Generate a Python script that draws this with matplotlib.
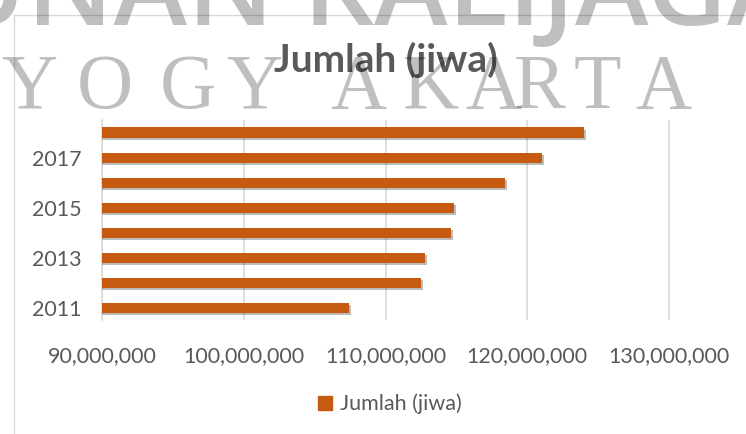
import matplotlib
matplotlib.use('Agg')
import matplotlib.pyplot as plt
import matplotlib.patheffects as pe
from matplotlib.lines import Line2D
from matplotlib.patches import Patch
from matplotlib.ticker import FuncFormatter

years = [2011, 2012, 2013, 2014, 2015, 2016, 2017, 2018]
jumlah = [107400000, 112500000, 112800000, 114600000, 114800000, 118400000, 121050000, 124000000]
x_ticks = [90000000, 100000000, 110000000, 120000000, 130000000]
year_labels = [2011, 2013, 2015, 2017]

W, H = 746, 434
bar_color = '#C55A11'
text_color = '#595959'
grid_color = '#d9d9d9'

plt.rcParams['font.family'] = ['Lato', 'DejaVu Sans']

fig = plt.figure(figsize=(W / 100, H / 100), dpi=100)
fig.patch.set_facecolor('white')

# plot area (pixel positions)
left, right, top, bottom = 102.3, 746, 120, 320
ax = fig.add_axes([left / W, 1 - bottom / H, (right - left) / W, (bottom - top) / H])

pos = list(range(len(years)))
bars = ax.barh(pos, jumlah, height=0.4, color=bar_color, zorder=3)
for b in bars:
    b.set_path_effects([pe.SimplePatchShadow(offset=(1.5, -1.8), shadow_rgbFace='#404040', alpha=0.35),
                        pe.Normal()])

ax.set_xlim(90000000, 135450000)
ax.set_ylim(-0.5, len(years) - 0.5)
ax.set_xticks(x_ticks)
ax.xaxis.set_major_formatter(FuncFormatter(lambda v, p: f'{int(v):,}'))
ax.set_yticks([years.index(y) for y in year_labels])
ax.set_yticklabels([str(y) for y in year_labels])
ax.tick_params(axis='x', length=0, pad=19, labelsize=15.5, labelcolor=text_color)
ax.tick_params(axis='y', length=0, pad=15, labelsize=15.5, labelcolor=text_color)
ax.grid(axis='x', color=grid_color, lw=1.2, zorder=0)
for s in ['top', 'right', 'bottom']:
    ax.spines[s].set_visible(False)
ax.spines['left'].set_color(grid_color)
ax.spines['left'].set_linewidth(1.2)

# chart border
bx, by = 14 / W, 1 - 15 / H
fig.add_artist(Line2D([bx, 1], [by, by], color=grid_color, lw=1, transform=fig.transFigure))
fig.add_artist(Line2D([bx, bx], [0, by], color=grid_color, lw=1, transform=fig.transFigure))

# title
fig.text(386 / W, 1 - 72 / H, 'Jumlah (jiwa)', ha='center', va='baseline',
         fontsize=28, fontweight='bold', color=text_color)

# legend
ax.legend(handles=[Patch(color=bar_color, label='Jumlah (jiwa)')], loc='center',
          bbox_to_anchor=(390 / W, 1 - 404 / H), bbox_transform=fig.transFigure,
          frameon=False, fontsize=15.5, labelcolor=text_color,
          handlelength=0.65, handleheight=0.65, handletextpad=0.35)

# background watermark
fig.text(372 / W, 1 - 25 / H, 'UNAN KALIJAGA', ha='center', va='baseline',
         fontsize=80, family='Open Sans', fontweight='semibold', color='black', alpha=0.25, zorder=10)
wm_letters = ['Y', 'O', 'G', 'Y', 'A', 'K', 'A', 'R', 'T', 'A']
wm_x = [29, 105, 188, 254, 358, 431, 493, 540, 597, 663]
for ch, x in zip(wm_letters, wm_x):
    fig.text(x / W, 1 - 108 / H, ch, ha='center', va='baseline',
             fontsize=56, family='Liberation Serif', color='black', alpha=0.25, zorder=10)

fig.savefig('out.png', dpi=100)
